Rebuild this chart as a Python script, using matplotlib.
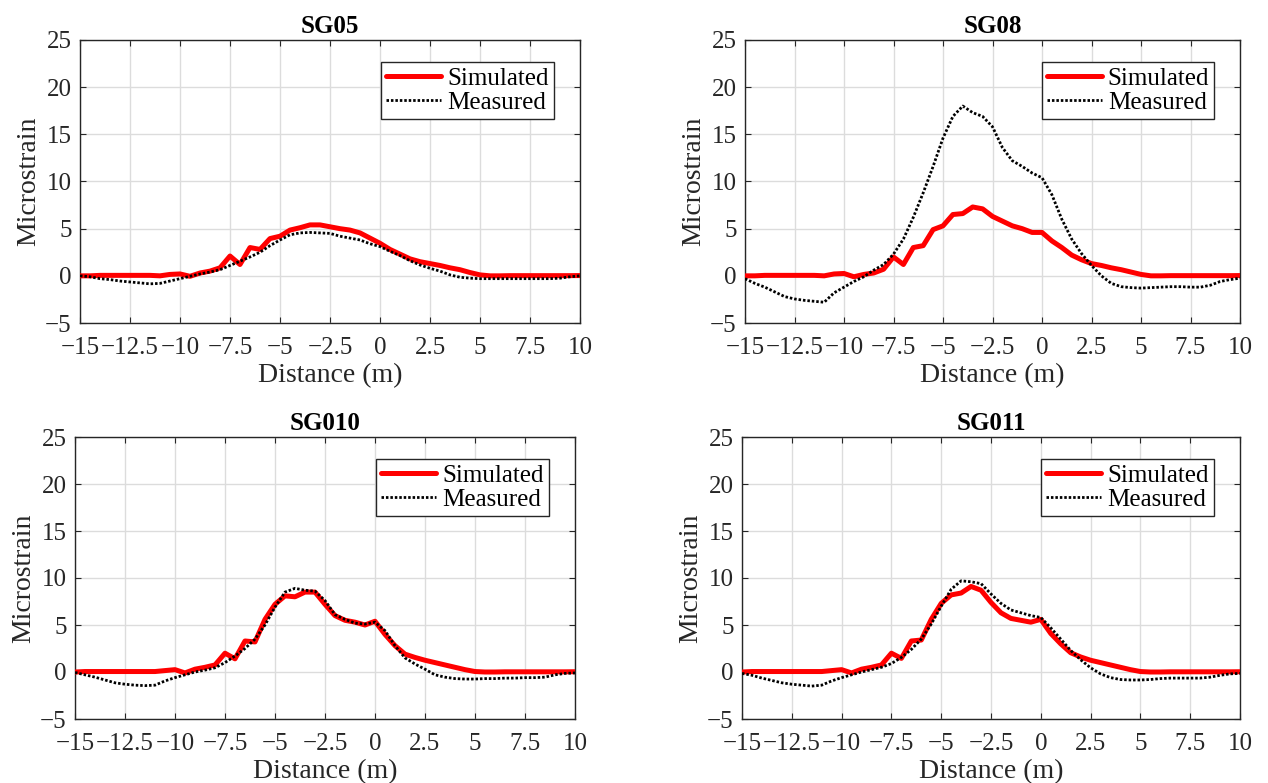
import numpy as np
import matplotlib
matplotlib.use("Agg")
import matplotlib.pyplot as plt

# ---------------- data ----------------
distance = [-15, -14.5, -14, -13.5, -13, -12.5, -12, -11.5, -11, -10.5,
            -10, -9.5, -9, -8.5, -8, -7.5, -7, -6.5, -6, -5.5,
            -5, -4.5, -4, -3.5, -3, -2.5, -2, -1.5, -1, -0.5,
            0, 0.5, 1, 1.5, 2, 2.5, 3, 3.5, 4, 4.5,
            5, 5.5, 6, 6.5, 7, 7.5, 8, 8.5, 9, 9.5, 10]

titles = ["SG05", "SG08", "SG010", "SG011"]

sg05_sim = [0.0, 0.0, 0.05, 0.05, 0.05, 0.05, 0.05, 0.05, 0.0, 0.15,
            0.2, -0.05, 0.3, 0.5, 0.85, 2.1, 1.2, 3.0, 2.8, 3.95,
            4.2, 4.85, 5.1, 5.4, 5.4, 5.2, 5.0, 4.85, 4.55, 4.0,
            3.45, 2.8, 2.3, 1.8, 1.5, 1.3, 1.1, 0.85, 0.65, 0.35,
            0.1, 0.0, 0.0, 0.02, 0.02, 0.02, 0.02, 0.02, 0.02, 0.02, 0.03]
sg05_meas = [0.0, -0.1, -0.3, -0.4, -0.55, -0.65, -0.75, -0.85, -0.8, -0.55,
             -0.3, -0.05, 0.2, 0.4, 0.65, 1.1, 1.55, 2.0, 2.5, 3.2,
             3.8, 4.35, 4.55, 4.6, 4.55, 4.5, 4.2, 4.0, 3.8, 3.4,
             3.1, 2.6, 2.15, 1.6, 1.15, 0.8, 0.5, 0.1, -0.15, -0.25,
             -0.3, -0.3, -0.3, -0.3, -0.3, -0.3, -0.3, -0.3, -0.25, -0.1, 0.0]

sg08_sim = [0.0, 0.0, 0.05, 0.05, 0.05, 0.05, 0.05, 0.05, 0.0, 0.2,
            0.25, -0.1, 0.15, 0.3, 0.7, 2.0, 1.2, 3.0, 3.2, 4.9,
            5.3, 6.5, 6.6, 7.3, 7.1, 6.3, 5.8, 5.3, 5.0, 4.6,
            4.6, 3.7, 3.0, 2.2, 1.7, 1.3, 1.1, 0.85, 0.65, 0.4,
            0.15, 0.0, 0.0, 0.02, 0.02, 0.02, 0.02, 0.02, 0.02, 0.02, 0.03]
sg08_meas = [-0.3, -0.8, -1.2, -1.7, -2.2, -2.45, -2.6, -2.7, -2.8, -1.8,
             -1.2, -0.6, -0.1, 0.6, 1.2, 2.3, 3.9, 6.2, 8.8, 11.6,
             14.6, 16.9, 18.0, 17.3, 16.9, 15.8, 13.6, 12.2, 11.6, 10.9,
             10.4, 8.6, 6.0, 3.9, 2.35, 1.1, 0.0, -0.8, -1.15, -1.25,
             -1.3, -1.25, -1.2, -1.15, -1.15, -1.2, -1.2, -1.0, -0.6, -0.4, -0.25]

sg010_sim = [0.0, 0.05, 0.05, 0.05, 0.05, 0.05, 0.05, 0.05, 0.05, 0.15,
             0.25, -0.1, 0.3, 0.5, 0.75, 2.0, 1.4, 3.3, 3.2, 5.6,
             7.2, 8.1, 8.0, 8.5, 8.5, 7.2, 6.0, 5.5, 5.3, 5.0,
             5.4, 4.0, 2.8, 1.9, 1.55, 1.25, 1.0, 0.75, 0.5, 0.25,
             0.05, 0.0, 0.0, 0.02, 0.02, 0.02, 0.02, 0.02, 0.02, 0.02, 0.03]
sg010_meas = [-0.05, -0.3, -0.55, -0.85, -1.15, -1.3, -1.4, -1.45, -1.4, -0.95,
              -0.6, -0.3, 0.0, 0.2, 0.45, 1.0, 1.7, 2.5, 3.5, 5.0,
              6.9, 8.5, 8.9, 8.7, 8.6, 7.6, 6.1, 5.6, 5.2, 5.1,
              5.3, 4.4, 2.8, 1.5, 0.85, 0.3, -0.3, -0.55, -0.7, -0.75,
              -0.75, -0.7, -0.7, -0.65, -0.65, -0.6, -0.6, -0.55, -0.3, -0.15, -0.1]

sg011_sim = [0.0, 0.05, 0.05, 0.05, 0.05, 0.05, 0.05, 0.05, 0.05, 0.15,
             0.25, -0.1, 0.3, 0.5, 0.75, 2.0, 1.45, 3.3, 3.4, 5.6,
             7.3, 8.2, 8.4, 9.1, 8.7, 7.4, 6.3, 5.7, 5.5, 5.3,
             5.6, 4.1, 3.0, 2.05, 1.6, 1.25, 1.0, 0.75, 0.5, 0.25,
             0.05, 0.0, 0.0, 0.02, 0.02, 0.02, 0.02, 0.02, 0.02, 0.02, 0.03]
sg011_meas = [-0.15, -0.35, -0.65, -0.9, -1.15, -1.3, -1.4, -1.5, -1.4, -0.95,
              -0.6, -0.3, 0.0, 0.25, 0.5, 0.9, 1.55, 2.4, 3.5, 5.1,
              7.0, 8.8, 9.7, 9.6, 9.4, 8.3, 7.3, 6.6, 6.3, 6.0,
              5.8, 4.7, 3.5, 2.3, 1.3, 0.45, -0.2, -0.6, -0.8, -0.85,
              -0.85, -0.8, -0.7, -0.65, -0.65, -0.65, -0.65, -0.55, -0.35, -0.2, -0.15]

simulated = [sg05_sim, sg08_sim, sg010_sim, sg011_sim]
measured = [sg05_meas, sg08_meas, sg010_meas, sg011_meas]

x_ticks = [-15, -12.5, -10, -7.5, -5, -2.5, 0, 2.5, 5, 7.5, 10]
x_ticklabels = ["\u221215", "\u221212.5", "\u221210", "\u22127.5", "\u22125", "\u22122.5",
                "0", "2.5", "5", "7.5", "10"]
y_ticks = [-5, 0, 5, 10, 15, 20, 25]
y_ticklabels = ["\u22125", "0", "5", "10", "15", "20", "25"]

# ---------------- style ----------------
plt.rcParams['font.family'] = ['Liberation Serif', 'DejaVu Serif']
plt.rcParams['axes.unicode_minus'] = True

W, H = 1268, 783
fig = plt.figure(figsize=(W / 100, H / 100), dpi=100)

# axes boxes in pixels: (left, top, right, bottom)
boxes = [(80, 40, 580, 323), (745, 40, 1240, 323),
         (75, 437, 575, 719), (742, 437, 1240, 719)]

axcol = '#262626'
for i, (l, t, r, b) in enumerate(boxes):
    ax = fig.add_axes([l / W, 1 - b / H, (r - l) / W, (b - t) / H])
    ax.plot(distance, simulated[i], color='#ff0000', lw=3.6, label='Simulated',
            solid_joinstyle='round', solid_capstyle='round', zorder=3)
    ax.plot(distance, measured[i], color='black', lw=2.0, ls=(0, (0.9, 0.7)),
            label='Measured', zorder=4)
    ax.set_xlim(-15, 10)
    ax.set_ylim(-5, 25)
    ax.set_xticks(x_ticks)
    ax.set_xticklabels(x_ticklabels)
    ax.set_yticks(y_ticks)
    ax.set_yticklabels(y_ticklabels)
    ax.grid(True, color='#dcdcdc', lw=1.0)
    ax.set_axisbelow(True)
    ax.tick_params(direction='in', top=True, right=True, length=4, width=0.8,
                   colors=axcol, labelsize=18)
    ax.tick_params(axis='x', pad=10)
    ax.tick_params(axis='y', pad=6)
    for lab in ax.get_xticklabels() + ax.get_yticklabels():
        lab.set_color(axcol)
    for sp in ax.spines.values():
        sp.set_color(axcol)
        sp.set_linewidth(1.0)
    ax.set_title(titles[i], fontsize=18, fontweight='bold', pad=5, color='black')
    ax.set_xlabel('Distance (m)', fontsize=20, color=axcol, labelpad=3)
    ax.set_ylabel('Microstrain', fontsize=20, color=axcol, labelpad=3)
    leg = ax.legend(loc='upper right', bbox_to_anchor=(0.948, 0.921), borderaxespad=0,
                    fontsize=18, frameon=True, fancybox=False, framealpha=1,
                    edgecolor=axcol, handlelength=2.2, handletextpad=0.25,
                    borderpad=0.2, labelspacing=0.05)
    leg.get_frame().set_linewidth(1.0)

fig.savefig('out.png', dpi=100, facecolor='white')
